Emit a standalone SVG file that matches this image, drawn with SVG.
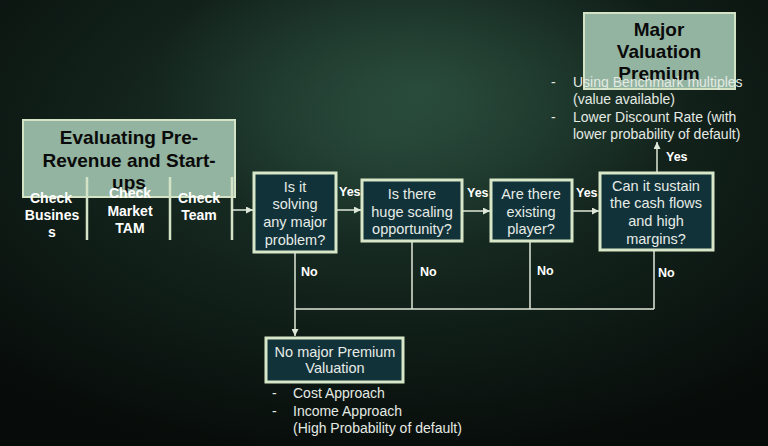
<svg xmlns="http://www.w3.org/2000/svg" width="768" height="446" viewBox="0 0 768 446">
<defs>
<radialGradient id="bg" cx="0.5" cy="0.3" r="0.75">
<stop offset="0" stop-color="#1f3a2f"/>
<stop offset="0.5" stop-color="#12221b"/>
<stop offset="1" stop-color="#070b09"/>
</radialGradient>
<radialGradient id="glow" cx="0.55" cy="0.2" r="0.35">
<stop offset="0" stop-color="#3b6a52" stop-opacity="0.45"/>
<stop offset="1" stop-color="#3b6a52" stop-opacity="0"/>
</radialGradient>
<marker id="ah" viewBox="0 0 10 10" refX="10" refY="5" markerWidth="7" markerHeight="7" markerUnits="userSpaceOnUse" orient="auto">
<path d="M0,0 L10,5 L0,10 z" fill="#dfe8d8"/>
</marker>
<style>
.title{fill:#93b4a0;stroke:#d4e3c6;stroke-width:2}
.dark{fill:#12323a;stroke:#d8e7c8;stroke-width:3}
.tt{font-family:"Liberation Sans",Arial,sans-serif;font-weight:bold;font-size:19px;fill:#0a0a0a;text-anchor:middle}
.bt{font-family:"Liberation Sans",Arial,sans-serif;font-size:14.5px;fill:#e6ece6;text-anchor:middle}
.ck{font-family:"Liberation Sans",Arial,sans-serif;font-weight:bold;font-size:14px;fill:#ffffff;text-anchor:middle}
.lb{font-family:"Liberation Sans",Arial,sans-serif;font-weight:bold;font-size:12.5px;fill:#ffffff}
.bl{font-family:"Liberation Sans",Arial,sans-serif;font-size:14px;fill:#e4eae4}
.ln{fill:none;stroke:#dfe8d8;stroke-width:1.5}
.sep{fill:none;stroke:#d4e3c6;stroke-width:2.5}
</style>
</defs>
<rect width="768" height="446" fill="url(#bg)"/>
<rect width="768" height="446" fill="url(#glow)"/>

<g id="start">
<rect class="title" x="23" y="120" width="212" height="77"/>
<text class="tt" x="129" y="144">Evaluating Pre-</text>
<text class="tt" x="129" y="167">Revenue and Start-</text>
<text class="tt" x="129" y="189">ups</text>
<path class="sep" d="M87,177 V240 M170,177 V240 M232,177 V240"/>
</g>

<g id="check-business">
<text class="ck" x="51" y="203">Check</text>
<text class="ck" x="52" y="220">Busines</text>
<text class="ck" x="52" y="237">s</text>
</g>
<g id="check-market">
<text class="ck" x="130" y="198">Check</text>
<text class="ck" x="130" y="216">Market</text>
<text class="ck" x="130" y="233">TAM</text>
</g>
<g id="check-team">
<text class="ck" x="199" y="203">Check</text>
<text class="ck" x="199" y="220">Team</text>
</g>

<g id="q1">
<rect class="dark" x="254" y="173" width="82" height="79"/>
<text class="bt" x="295" y="192">Is it</text>
<text class="bt" x="295" y="209">solving</text>
<text class="bt" x="295" y="227">any major</text>
<text class="bt" x="295" y="245">problem?</text>
</g>
<g id="q2">
<rect class="dark" x="362" y="180" width="100" height="61"/>
<text class="bt" x="412" y="199">Is there</text>
<text class="bt" x="412" y="217">huge scaling</text>
<text class="bt" x="412" y="234">opportunity?</text>
</g>
<g id="q3">
<rect class="dark" x="491" y="180" width="81" height="61"/>
<text class="bt" x="531" y="199">Are there</text>
<text class="bt" x="531" y="217">existing</text>
<text class="bt" x="531" y="234">player?</text>
</g>
<g id="q4">
<rect class="dark" x="600" y="173" width="113" height="77"/>
<text class="bt" x="656" y="191">Can it sustain</text>
<text class="bt" x="656" y="208">the cash flows</text>
<text class="bt" x="656" y="226">and high</text>
<text class="bt" x="656" y="244">margins?</text>
</g>

<g id="premium">
<rect class="title" x="584" y="13" width="151" height="76"/>
<text class="tt" x="659" y="36">Major</text>
<text class="tt" x="659" y="58">Valuation</text>
<text class="tt" x="659" y="80">Premium</text>
<text class="bl" x="551" y="87">-</text>
<text class="bl" x="573" y="87">Using Benchmark multiples</text>
<text class="bl" x="573" y="104">(value available)</text>
<text class="bl" x="551" y="122">-</text>
<text class="bl" x="573" y="122">Lower Discount Rate (with</text>
<text class="bl" x="573" y="139">lower probability of default)</text>
</g>

<g id="no-premium">
<rect class="dark" x="266" y="338" width="137" height="44"/>
<text class="bt" x="335" y="357">No major Premium</text>
<text class="bt" x="335" y="373">Valuation</text>
<text class="bl" x="272" y="398">-</text>
<text class="bl" x="293" y="398">Cost Approach</text>
<text class="bl" x="272" y="416">-</text>
<text class="bl" x="293" y="416">Income Approach</text>
<text class="bl" x="293" y="433">(High Probability of default)</text>
</g>

<g id="connectors">
<path class="ln" d="M232,210 H253" marker-end="url(#ah)"/>
<path class="ln" d="M337,210 H361" marker-end="url(#ah)"/>
<path class="ln" d="M463,211 H490" marker-end="url(#ah)"/>
<path class="ln" d="M573,211 H599" marker-end="url(#ah)"/>
<path class="ln" d="M657,172 V142" marker-end="url(#ah)"/>
<path class="ln" d="M412,242 V309 M530,242 V309 M654,251 V309 M295,309 H654"/>
<path class="ln" d="M295,253 V336" marker-end="url(#ah)"/>
<text class="lb" x="339" y="196">Yes</text>
<text class="lb" x="467" y="197">Yes</text>
<text class="lb" x="576" y="197">Yes</text>
<text class="lb" x="666" y="161">Yes</text>
<text class="lb" x="301" y="276">No</text>
<text class="lb" x="420" y="276">No</text>
<text class="lb" x="537" y="275">No</text>
<text class="lb" x="658" y="277">No</text>
</g>
</svg>
